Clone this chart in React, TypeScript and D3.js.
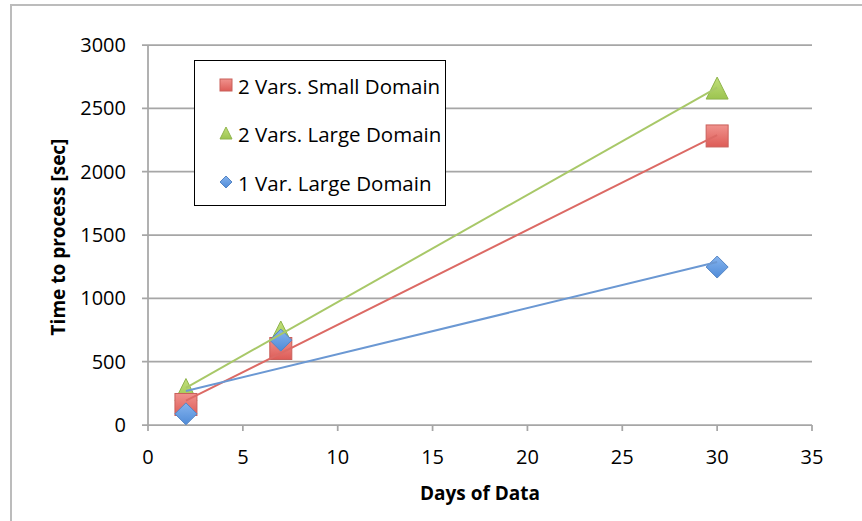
import React from "react";
import * as d3 from "d3";

const days = [2, 7, 30];
const smallDomain2 = [162, 604, 2282];
const largeDomain2 = [280, 734, 2660];
const largeDomain1 = [88, 670, 1247];
const seriesNames = ["2 Vars. Small Domain", "2 Vars. Large Domain", "1 Var. Large Domain"];
const xTicks = [0, 5, 10, 15, 20, 25, 30, 35];
const yTicks = [0, 500, 1000, 1500, 2000, 2500, 3000];

const W = 862, H = 521;
const M = { left: 148, right: 812, top: 45, bottom: 425 };
const FONT = "'Open Sans', sans-serif";

function fit(xs: number[], ys: number[]) {
  const mx = d3.mean(xs)!, my = d3.mean(ys)!;
  let sxy = 0, sxx = 0;
  xs.forEach((x, i) => { sxy += (x - mx) * (ys[i] - my); sxx += (x - mx) * (x - mx); });
  const b = sxy / sxx;
  const a = my - b * mx;
  return (x: number) => a + b * x;
}

export default function App() {
  const x = d3.scaleLinear().domain([0, 35]).range([M.left, M.right]);
  const y = d3.scaleLinear().domain([0, 3000]).range([M.bottom, M.top]);
  const line = d3.line<[number, number]>().x(d => x(d[0])).y(d => y(d[1]));
  const xMin = d3.min(days)!, xMax = d3.max(days)!;

  const series = [
    { name: seriesNames[1], vals: largeDomain2, kind: "tri", line: "#a8c868", grad: "gG", stroke: "#8fb44c" },
    { name: seriesNames[0], vals: smallDomain2, kind: "sq", line: "#dc6a65", grad: "gR", stroke: "#c9605b" },
    { name: seriesNames[2], vals: largeDomain1, kind: "dia", line: "#6b98d3", grad: "gB", stroke: "#5585c4" },
  ];

  const marker = (kind: string, cx: number, cy: number, s: number, fill: string, stroke: string, key?: string) => {
    const h = s / 2;
    if (kind === "sq") return <rect key={key} x={cx - h} y={cy - h} width={s} height={s} fill={fill} stroke={stroke} strokeWidth={1} />;
    if (kind === "tri") return <path key={key} d={`M${cx},${cy - h}L${cx + h},${cy + h}L${cx - h},${cy + h}Z`} fill={fill} stroke={stroke} strokeWidth={1} />;
    return <path key={key} d={`M${cx},${cy - h}L${cx + h},${cy}L${cx},${cy + h}L${cx - h},${cy}Z`} fill={fill} stroke={stroke} strokeWidth={1} />;
  };

  return (
    <div style={{ position: "fixed", left: 0, top: 0 }}>
      <svg width={W} height={H} style={{ display: "block", background: "#fff" }}>
        <defs>
          <linearGradient id="gR" x1="0" y1="0" x2="0" y2="1">
            <stop offset="0" stopColor="#f0928d" />
            <stop offset="1" stopColor="#dd5c57" />
          </linearGradient>
          <linearGradient id="gG" x1="0" y1="0" x2="0" y2="1">
            <stop offset="0" stopColor="#c2e07a" />
            <stop offset="1" stopColor="#9cc450" />
          </linearGradient>
          <linearGradient id="gB" x1="0" y1="0" x2="0" y2="1">
            <stop offset="0" stopColor="#86b4ee" />
            <stop offset="1" stopColor="#4f8bd8" />
          </linearGradient>
        </defs>
        <rect x={11} y={5} width={W + 10} height={H + 10} fill="none" stroke="#bcbcbc" strokeWidth={2} />

        {yTicks.map(t => (
          <g key={"y" + t}>
            <line x1={M.left - 6} x2={M.right} y1={y(t)} y2={y(t)} stroke="#a6a6a6" strokeWidth={1.75} />
            <text x={126} y={y(t) + 7} textAnchor="end" fontFamily={FONT} fontSize={20} fill="#000">{t}</text>
          </g>
        ))}
        <line x1={M.left} x2={M.left} y1={M.top} y2={M.bottom} stroke="#a6a6a6" strokeWidth={1.75} />
        {xTicks.map(t => (
          <g key={"x" + t}>
            <line x1={x(t)} x2={x(t)} y1={M.bottom} y2={M.bottom + 6} stroke="#a6a6a6" strokeWidth={1.75} />
            <text x={x(t)} y={464} textAnchor="middle" fontFamily={FONT} fontSize={20} fill="#000">{t}</text>
          </g>
        ))}

        {series.map(s => (
          <g key={"m" + s.name}>
            {days.map((d, i) => marker(s.kind, x(d), y(s.vals[i]), 22, `url(#${s.grad})`, s.stroke, s.name + i))}
          </g>
        ))}
        {series.map(s => {
          const f = fit(days, s.vals);
          return <path key={"l" + s.name} d={line([[xMin, f(xMin)], [xMax, f(xMax)]])!} fill="none" stroke={s.line} strokeWidth={2} />;
        })}

        <text x={(M.left + M.right) / 2} y={500} textAnchor="middle" fontFamily={FONT} fontWeight="bold" fontSize={19}>Days of Data</text>
        <text transform={`translate(65,${(M.top + M.bottom) / 2 + 2}) rotate(-90)`} textAnchor="middle" fontFamily={FONT} fontWeight="bold" fontSize={19}>Time to process [sec]</text>

        <rect x={194.5} y={60.5} width={251} height={145} fill="#fff" stroke="#000" strokeWidth={1} />
        {[
          { name: seriesNames[0], kind: "sq", grad: "gR", stroke: "#c9605b", yb: 94 },
          { name: seriesNames[1], kind: "tri", grad: "gG", stroke: "#8fb44c", yb: 142 },
          { name: seriesNames[2], kind: "dia", grad: "gB", stroke: "#5585c4", yb: 191 },
        ].map(e => (
          <g key={"lg" + e.name}>
            {marker(e.kind, 226, e.yb - 9, 12, `url(#${e.grad})`, e.stroke)}
            <text x={238} y={e.yb} fontFamily={FONT} fontSize={20.5} fill="#000">{e.name}</text>
          </g>
        ))}
      </svg>
    </div>
  );
}
